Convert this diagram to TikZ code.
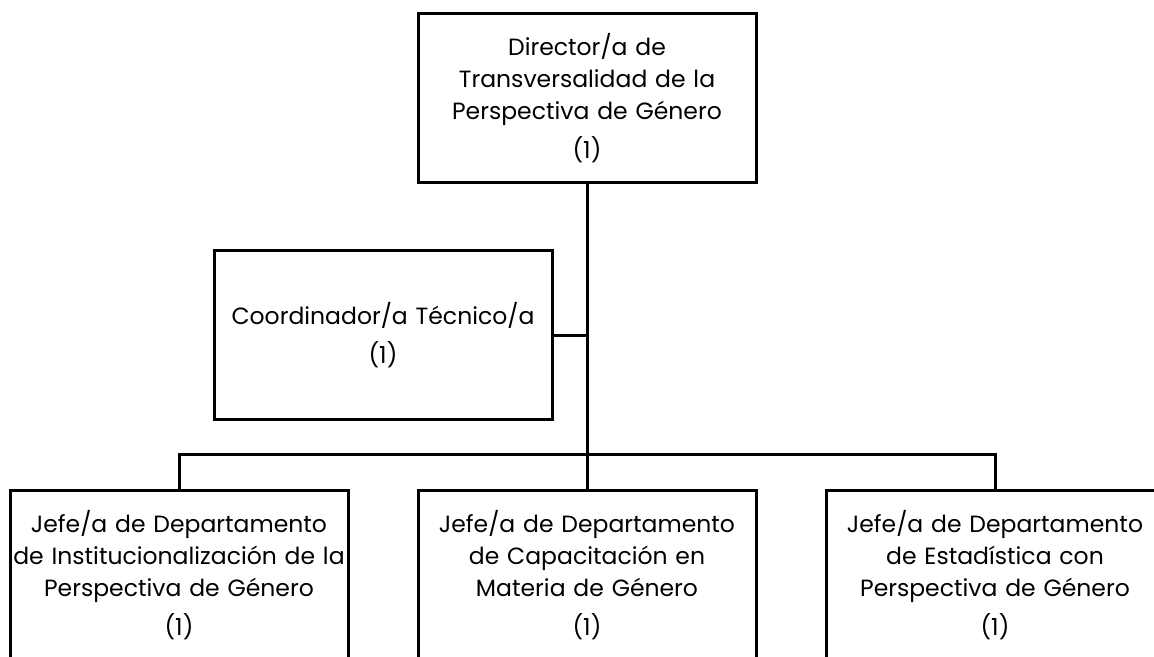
\documentclass[tikz,border=0pt]{standalone}
\usepackage{fontspec}
\setmainfont{Poppins}
\usetikzlibrary{positioning}
\tikzset{post/.style={
    rectangle,draw=black,line width=3pt,
    minimum width=338pt,minimum height=169pt,
    text width=334pt,align=center,inner sep=0pt,
    font=\fontsize{23.5}{32}\selectfont}}
\tikzset{every picture/.style={line width=3pt}}

\begin{document}
\begin{tikzpicture}[x=1pt,y=-1pt,node distance=67pt]
  \useasboundingbox[fill=white] (0,0) rectangle (1154,656);

  \node (dir)   [post] at (587,98) {Director/a de\\ Transversalidad de la\\ Perspectiva de Género\\[7pt] (1)};
  \node (coord) [post] at (383,335)  {Coordinador/a Técnico/a\\[7pt] (1)};
  \node (inst)  [post] at (179,575) {Jefe/a de Departamento\\ de Institucionalización de la\\ Perspectiva de Género\\[7pt] (1)};
  \node (cap)   [post,right=of inst] {Jefe/a de Departamento\\ de Capacitación en\\ Materia de Género\\[7pt] (1)};
  \node (est)   [post,right=of cap]  {Jefe/a de Departamento\\ de Estadística con\\ Perspectiva de Género\\[7pt] (1)};
\coordinate (hub) at (cap.north |- 0,454);

\draw (dir) -- (hub);
\draw (coord.east) -- (coord.east -| hub);
\draw (inst.north) |- (hub) -| (est.north);
\draw (hub) -- (cap);

\end{tikzpicture}
\end{document}
